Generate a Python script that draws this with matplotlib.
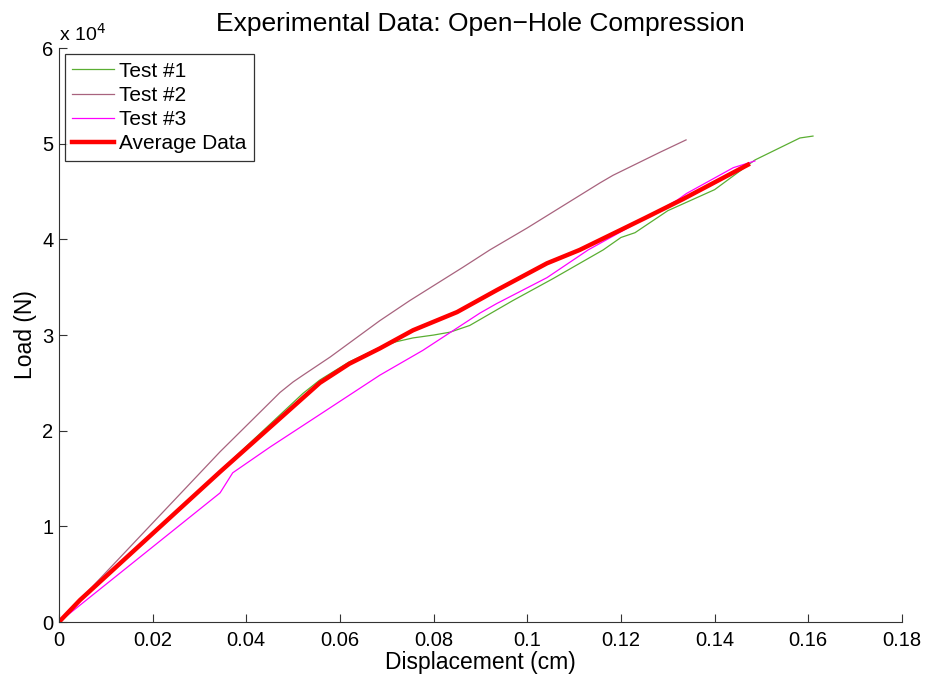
import matplotlib.pyplot as plt
from matplotlib.ticker import FuncFormatter

plt.rcParams['font.family'] = ['Liberation Sans', 'DejaVu Sans']

# Test #1
t1_disp = [0.0, 0.0045, 0.0344, 0.0521, 0.0557, 0.0620, 0.0685, 0.0720, 0.0756,
           0.0800, 0.0835, 0.0877, 0.0969, 0.1055, 0.1162, 0.1200, 0.1230, 0.1300,
           0.1400, 0.1486, 0.1582, 0.1610]
t1_load = [0, 2400, 15800, 23900, 25300, 27200, 28700, 29300, 29700,
           30000, 30300, 31000, 33600, 35900, 38900, 40200, 40700, 43000,
           45200, 48300, 50600, 50800]

# Test #2
t2_disp = [0.0, 0.0344, 0.0472, 0.0500, 0.0521, 0.0579, 0.0685, 0.0749, 0.0863,
           0.0920, 0.1000, 0.1155, 0.1183, 0.1283, 0.1339]
t2_load = [0, 17800, 24000, 25100, 25800, 27700, 31500, 33600, 37100,
           38900, 41200, 45900, 46700, 49100, 50400]

# Test #3
t3_disp = [0.0, 0.0344, 0.0371, 0.0451, 0.0551, 0.0685, 0.0777, 0.0899, 0.0935,
           0.1042, 0.1130, 0.1200, 0.1320, 0.1340, 0.1440, 0.1486]
t3_load = [0, 13500, 15600, 18300, 21500, 25800, 28400, 32300, 33300,
           36000, 38900, 40800, 44100, 44800, 47500, 48200]

# Average
avg_disp = [0.0, 0.0045, 0.0344, 0.0557, 0.0620, 0.0685, 0.0756, 0.0850, 0.0935,
            0.1042, 0.1112, 0.1200, 0.1250, 0.1332, 0.1471]
avg_load = [0, 2300, 15700, 25000, 27000, 28600, 30500, 32400, 34700,
            37500, 38900, 41000, 42200, 44200, 47800]

fig = plt.figure(figsize=(9.27, 6.77), dpi=100)
ax = fig.add_axes([0.0636, 0.0812, 0.9094, 0.8478])

ax.plot(t1_disp, t1_load, color='#5aae32', lw=0.9, label='Test #1')
ax.plot(t2_disp, t2_load, color='#a8637e', lw=0.9, label='Test #2')
ax.plot(t3_disp, t3_load, color='#ff00ff', lw=0.9, label='Test #3')
ax.plot(avg_disp, avg_load, color='#ff0000', lw=3.2, label='Average Data')

ax.set_xlim(0, 0.18)
ax.set_ylim(0, 60000)
ax.set_xticks([0, 0.02, 0.04, 0.06, 0.08, 0.1, 0.12, 0.14, 0.16, 0.18])
ax.set_xticklabels(['0', '0.02', '0.04', '0.06', '0.08', '0.1', '0.12', '0.14', '0.16', '0.18'])
ax.set_yticks([0, 10000, 20000, 30000, 40000, 50000, 60000])
ax.yaxis.set_major_formatter(FuncFormatter(lambda v, p: f"{v/1e4:g}"))

ax.spines['top'].set_visible(False)
ax.spines['right'].set_visible(False)
for s in ('left', 'bottom'):
    ax.spines[s].set_color('#333333')
    ax.spines[s].set_linewidth(0.8)
ax.tick_params(direction='in', length=6, width=0.8, colors='#333333',
               labelcolor='black', labelsize=14.5)
ax.tick_params(axis='x', pad=6.5)
ax.tick_params(axis='y', pad=4)

ax.text(0.0, 1.006, 'x 10$^{4}$', transform=ax.transAxes, fontsize=14,
        ha='left', va='bottom')

ax.set_title('Experimental Data: Open\u2212Hole Compression', fontsize=19, pad=12)
ax.set_xlabel('Displacement (cm)', fontsize=16.5, labelpad=1)
ax.set_ylabel('Load (N)', fontsize=16.5, labelpad=4)

leg = ax.legend(loc='upper left', fontsize=15, frameon=True, fancybox=False,
                borderaxespad=0.3, handlelength=2.0, borderpad=0.35,
                labelspacing=0.25, handletextpad=0.25)
leg.get_frame().set_edgecolor('black')
leg.get_frame().set_linewidth(0.9)

fig.savefig('out.png', dpi=100)
